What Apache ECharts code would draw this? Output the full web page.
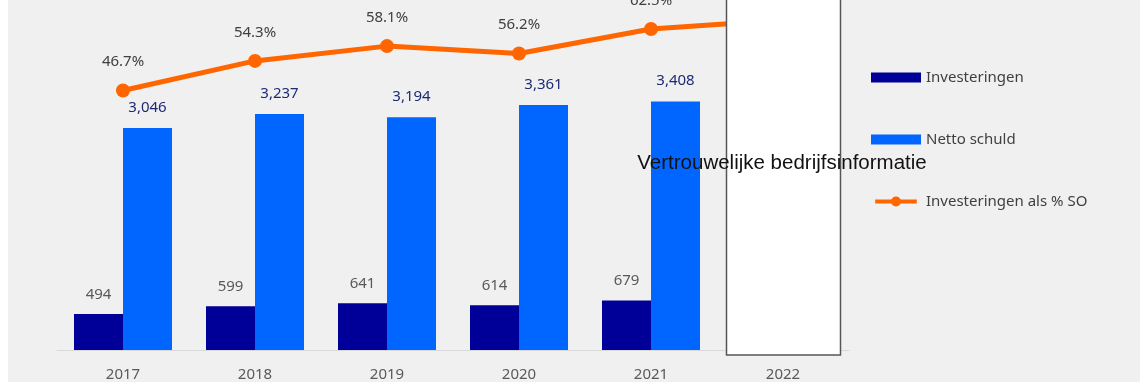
<!DOCTYPE html>
<html>
<head>
<meta charset="utf-8">
<script src="https://cdn.jsdelivr.net/npm/echarts@6/dist/echarts.min.js"></script>
<style>
  html, body { margin: 0; padding: 0; background: #ffffff; }
  #chart { width: 1140px; height: 382px; }
</style>
</head>
<body>
<div id="chart"></div>
<script>
const years = ['2017', '2018', '2019', '2020', '2021', '2022'];
const investeringen = [494, 599, 641, 614, 679, null];
const nettoSchuld = [3046, 3237, 3194, 3361, 3408, null];
const investPct = [46.7, 54.3, 58.1, 56.2, 62.5, 64.8];
const seriesNames = ['Investeringen', 'Netto schuld', 'Investeringen als % SO'];
const redactedCategory = '2022';
const overlayText = 'Vertrouwelijke bedrijfsinformatie';

const FONT = '"Noto Sans", "Open Sans", sans-serif';
const chart = echarts.init(document.getElementById('chart'), null, { renderer: 'canvas' });

const option = {
  backgroundColor: '#f0f0f0',
  animation: false,
  grid: { left: 57, right: 291, top: 22, bottom: 30, containLabel: false },
  legend: {
    orient: 'vertical',
    left: 871,
    top: 70,
    padding: 0,
    itemWidth: 50,
    itemHeight: 10,
    itemGap: 47,
    data: [
      { name: seriesNames[0], icon: 'rect' },
      { name: seriesNames[1], icon: 'rect' },
      { name: seriesNames[2], icon: 'path://M0,2.5L50,2.5L50,7.5L0,7.5Z M31,5A6,6,0,1,1,19,5A6,6,0,1,1,31,5Z' }
    ],
    textStyle: { color: '#404040', fontSize: 15, fontFamily: FONT, lineHeight: 15 }
  },
  xAxis: {
    type: 'category',
    data: years,
    axisLine: { lineStyle: { color: '#d9d9d9', width: 1 } },
    axisTick: { show: false },
    axisLabel: { color: '#595959', fontSize: 15, fontFamily: FONT, margin: 17 }
  },
  yAxis: [
    { type: 'value', min: 0, max: 4500, show: false, splitLine: { show: false } },
    { type: 'value', min: -19.89, max: 64.29, show: false, splitLine: { show: false } }
  ],
  series: [
    {
      name: seriesNames[0],
      type: 'bar',
      data: investeringen,
      barWidth: 49,
      barGap: '0%',
      itemStyle: { color: '#000099' },
      label: {
        show: true, position: 'top', distance: 12,
        color: '#595959', fontSize: 15, fontFamily: FONT,
        formatter: p => p.value == null ? '' : p.value.toLocaleString('en-US')
      }
    },
    {
      name: seriesNames[1],
      type: 'bar',
      data: nettoSchuld,
      barWidth: 49,
      barGap: '0%',
      itemStyle: { color: '#0066ff' },
      label: {
        show: true, position: 'top', distance: 13,
        color: '#1f2a75', fontSize: 15, fontFamily: FONT,
        formatter: p => p.value == null ? '' : p.value.toLocaleString('en-US')
      }
    },
    {
      name: seriesNames[2],
      type: 'line',
      yAxisIndex: 1,
      data: investPct,
      clip: false,
      symbol: 'circle',
      symbolSize: 14,
      lineStyle: { color: '#ff6600', width: 5 },
      itemStyle: { color: '#ff6600' },
      label: {
        show: true, position: 'top', distance: 14,
        color: '#404040', fontSize: 15, fontFamily: FONT,
        formatter: p => p.value.toFixed(1) + '%'
      },
      z: 5
    }
  ]
};
chart.setOption(option);

// Redaction box over the 2022 category, positioned via the axis scale
const cx = chart.convertToPixel({ xAxisIndex: 0 }, redactedCategory);
const baseY = chart.convertToPixel({ yAxisIndex: 0 }, 0);
const boxW = 114;
chart.setOption({
  graphic: [
    { type: 'rect', z: 100, shape: { x: 0, y: 0, width: 8, height: 382 }, style: { fill: '#ffffff' } },
    {
      type: 'rect', z: 100,
      shape: { x: Math.round(cx - boxW / 2) + 0.5, y: -5, width: boxW, height: baseY + 5 + 5 },
      style: { fill: '#ffffff', stroke: '#555555', lineWidth: 1.5 }
    },
    {
      type: 'text', z: 101,
      x: cx - 1, y: 163,
      style: {
        text: overlayText, fill: '#111111', fontSize: 20.5,
        fontFamily: '"Liberation Sans", Arial, sans-serif',
        align: 'center', verticalAlign: 'middle'
      }
    }
  ]
});
</script>
</body>
</html>
